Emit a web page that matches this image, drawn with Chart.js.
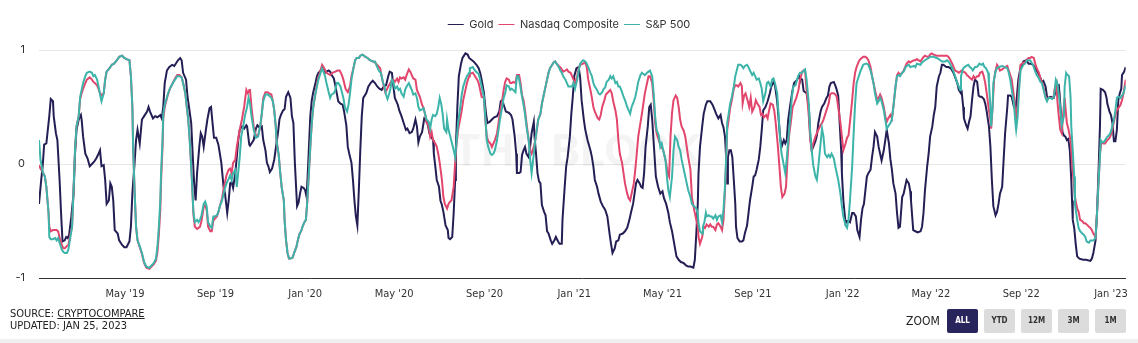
<!DOCTYPE html>
<html>
<head>
<meta charset="utf-8">
<script src="https://cdn.jsdelivr.net/npm/chart.js@4.4.1/dist/chart.umd.min.js"></script>
<style>
  html, body { margin: 0; padding: 0; background: #fff; }
  #wrap { position: relative; width: 1138px; height: 343px; overflow: hidden; }
  #box { position: absolute; left: 0; top: 0; width: 1138px; height: 343px; }
  .narrow { font-family: "Liberation Sans Narrow", "DejaVu Sans Condensed", "Roboto", sans-serif; color: #222; }
  #source { position: absolute; left: 10px; top: 308px; font-size: 11px; line-height: 12px; }
  #source u { text-decoration: underline; }
  #zoomLbl { position: absolute; left: 906px; top: 314px; font-size: 12px; }
  .btn { position: absolute; top: 309px; width: 31px; height: 24px; border-radius: 2px; background: #dcdcdc;
         font-size: 8px; font-weight: bold; line-height: 24px; text-align: center; color: #333; }
  .btn.on { background: #28245c; color: #fff; }
  #strip { position: absolute; left: 0; top: 339px; width: 1138px; height: 4px; background: #efefef; }
</style>
</head>
<body>
<div id="wrap">
  <div id="box"><canvas id="c"></canvas></div>
  <div id="source" class="narrow">SOURCE: <u>CRYPTOCOMPARE</u><br>UPDATED: JAN 25, 2023</div>
  <div id="zoomLbl" class="narrow">ZOOM</div>
  <div class="btn on narrow" style="left:947px">ALL</div>
  <div class="btn narrow" style="left:984px">YTD</div>
  <div class="btn narrow" style="left:1021px">12M</div>
  <div class="btn narrow" style="left:1058px">3M</div>
  <div class="btn narrow" style="left:1095px">1M</div>
  <div id="strip"></div>
</div>
<script>
// 30-day rolling correlation with Bitcoin; each point is [days since 2019-01-04, correlation]
const START = Date.UTC(2019, 0, 4);
const LAST_DAY = 1478;

const tickDates = ['2019-05-01','2019-09-01','2020-01-01','2020-05-01','2020-09-01','2021-01-01',
                   '2021-05-01','2021-09-01','2022-01-01','2022-05-01','2022-09-01','2023-01-01'];
const tickLabels = ["May '19","Sep '19","Jan '20","May '20","Sep '20","Jan '21",
                    "May '21","Sep '21","Jan '22","May '22","Sep '22","Jan '23"];

const gold = [
[0,-0.35],[3,-0.14],[5,-0.02],[7,0.17],[10,0.18],[11,0.24],[14,0.42],[16,0.57],[19,0.55],[20,0.42],[23,0.27],[25,0.21],[28,-0.14],[30,-0.43],[32,-0.68],[35,-0.67],[37,-0.64],[39,-0.65],[41,-0.62],[44,-0.46],[47,-0.26],[49,0.09],[51,0.30],[54,0.39],[57,0.43],[58,0.39],[60,0.24],[63,0.09],[66,0.05],[69,-0.02],[72,0.00],[75,0.02],[78,0.05],[81,0.09],[83,0.12],[85,-0.02],[88,-0.01],[90,-0.14],[92,-0.35],[95,-0.32],[97,-0.17],[99,-0.20],[101,-0.32],[103,-0.58],[107,-0.61],[109,-0.67],[113,-0.71],[116,-0.73],[119,-0.73],[123,-0.68],[125,-0.55],[127,-0.26],[130,0.01],[132,0.21],[134,0.30],
[137,0.18],[140,0.39],[143,0.42],[147,0.46],[149,0.50],[151,0.46],[155,0.40],[158,0.42],[161,0.41],[165,0.43],[167,0.40],[169,0.50],[171,0.71],[174,0.82],[177,0.85],[181,0.87],[184,0.86],[186,0.88],[189,0.91],[192,0.93],[194,0.91],[196,0.80],[200,0.74],[202,0.59],[204,0.50],[207,0.36],[209,0.09],[211,-0.17],[213,-0.32],[215,-0.08],[218,0.15],[220,0.27],[222,0.24],[224,0.15],[227,0.30],[229,0.39],[232,0.49],[234,0.50],[236,0.36],[238,0.23],[241,0.23],[244,0.17],[246,0.09],[248,0.01],[251,-0.20],[253,-0.26],[256,-0.43],[258,-0.32],[260,-0.17],[262,-0.16],[264,-0.21],[267,-0.08],[269,0.06],[271,0.21],[273,0.30],[276,0.33],[279,0.31],[282,0.34],[283,0.33],[286,0.17],
[287,0.16],[292,0.21],[295,0.31],[297,0.34],[300,0.32],[303,0.33],[305,0.21],[308,0.12],[310,0.01],[312,-0.02],[314,-0.07],[317,-0.04],[320,0.04],[323,0.18],[325,0.27],[327,0.39],[329,0.43],[332,0.47],[334,0.48],[336,0.59],[339,0.63],[342,0.58],[344,0.42],[346,0.36],[348,0.01],[351,-0.37],[353,-0.34],[355,-0.26],[357,-0.20],[360,-0.21],[362,-0.23],[364,-0.29],[366,-0.02],[369,0.42],[371,0.56],[373,0.63],[376,0.71],[378,0.77],[380,0.80],[382,0.81],[385,0.84],[387,0.82],[389,0.80],[391,0.81],[394,0.82],[396,0.81],[398,0.78],[401,0.75],[403,0.69],[405,0.62],[407,0.55],[410,0.53],[413,0.52],[415,0.46],[418,0.34],[420,0.15],[422,0.09],[425,0.01],[427,-0.14],[429,-0.32],[431,-0.46],[433,-0.54],[435,-0.23],
[437,0.12],[439,0.42],[441,0.58],[445,0.62],[448,0.68],[451,0.71],[454,0.73],[457,0.71],[460,0.68],[463,0.66],[466,0.65],[469,0.68],[472,0.69],[475,0.77],[477,0.81],[480,0.80],[482,0.68],[484,0.58],[488,0.52],[490,0.47],[493,0.42],[497,0.34],[499,0.30],[501,0.31],[504,0.27],[507,0.28],[509,0.31],[512,0.39],[514,0.33],[516,0.19],[518,0.24],[521,0.28],[524,0.40],[526,0.39],[529,0.34],[531,0.27],[533,0.24],[536,0.21],[537,0.09],[539,-0.02],[541,-0.14],[544,-0.20],[546,-0.32],[548,-0.36],[550,-0.42],[553,-0.54],[556,-0.58],[557,-0.65],[559,-0.66],[562,-0.64],[564,-0.43],[566,-0.14],[567,0.15],[569,0.50],[571,0.77],[574,0.88],[576,0.93],[580,0.97],[583,0.96],[585,0.93],
[586,0.93],[591,0.90],[595,0.87],[598,0.84],[600,0.80],[602,0.74],[605,0.63],[608,0.44],[610,0.36],[613,0.37],[616,0.39],[619,0.41],[623,0.42],[626,0.46],[628,0.55],[630,0.56],[633,0.50],[635,0.46],[639,0.45],[642,0.43],[644,0.39],[647,0.24],[649,0.09],[650,-0.08],[653,-0.08],[655,-0.07],[657,0.08],[659,0.12],[661,0.15],[663,0.09],[666,0.06],[668,0.15],[670,0.27],[673,0.37],[674,0.24],[676,0.09],[678,-0.08],[680,-0.15],[682,-0.17],[684,-0.36],[687,-0.42],[689,-0.45],[691,-0.59],[693,-0.61],[696,-0.67],[698,-0.70],[701,-0.67],[703,-0.64],[706,-0.68],[708,-0.70],[711,-0.70],[712,-0.49],[715,-0.20],[717,-0.02],[719,0.06],[722,0.24],[724,0.44],[726,0.59],[728,0.77],[731,0.84],[734,0.85],
[736,0.76],[738,0.56],[741,0.39],[743,0.30],[746,0.21],[750,0.12],[752,0.06],[754,-0.02],[756,-0.14],[759,-0.20],[761,-0.26],[764,-0.33],[767,-0.37],[770,-0.40],[773,-0.46],[776,-0.61],[778,-0.70],[780,-0.78],[783,-0.74],[785,-0.68],[788,-0.67],[790,-0.62],[794,-0.61],[797,-0.59],[800,-0.56],[803,-0.49],[805,-0.43],[808,-0.35],[810,-0.26],[812,-0.17],[814,-0.14],[817,-0.17],[819,-0.20],[821,-0.21],[823,-0.08],[825,0.15],[828,0.33],[830,0.50],[832,0.52],[834,0.39],[837,0.09],[839,-0.11],[842,-0.20],[845,-0.26],[848,-0.24],[850,-0.30],[853,-0.35],[856,-0.43],[858,-0.51],[861,-0.59],[864,-0.70],[867,-0.81],[870,-0.84],[873,-0.86],[877,-0.87],[880,-0.89],[883,-0.90],
[886,-0.90],[890,-0.91],[892,-0.84],[894,-0.61],[896,-0.35],[897,-0.08],[899,0.15],[902,0.33],[904,0.44],[907,0.52],[909,0.55],[913,0.55],[916,0.52],[918,0.49],[921,0.44],[924,0.40],[927,0.43],[929,0.36],[931,0.32],[933,0.24],[935,0.01],[936,-0.17],[937,0.06],[939,0.12],[941,0.12],[943,0.06],[945,-0.14],[947,-0.35],[948,-0.55],[950,-0.65],[953,-0.68],[956,-0.68],[958,-0.67],[960,-0.61],[963,-0.54],[965,-0.43],[967,-0.32],[970,-0.20],[972,-0.11],[974,-0.10],[976,-0.05],[979,0.04],[981,0.15],[983,0.30],[985,0.47],[988,0.50],[991,0.55],[994,0.62],[996,0.68],[999,0.72],[1001,0.69],[1004,0.55],[1006,0.39],[1008,0.24],[1010,0.15],[1013,0.21],[1015,0.18],[1017,0.21],[1019,0.39],[1022,0.53],[1025,0.65],[1027,0.71],[1030,0.73],[1032,0.75],[1034,0.77],
[1035,0.75],[1038,0.74],[1040,0.64],[1044,0.62],[1047,0.50],[1049,0.24],[1051,0.12],[1053,0.15],[1056,0.20],[1058,0.25],[1060,0.36],[1063,0.46],[1065,0.50],[1068,0.53],[1071,0.58],[1073,0.60],[1075,0.68],[1077,0.71],[1081,0.72],[1083,0.69],[1085,0.65],[1087,0.60],[1089,0.36],[1091,0.12],[1092,-0.08],[1094,-0.32],[1097,-0.52],[1099,-0.50],[1101,-0.50],[1103,-0.51],[1106,-0.43],[1108,-0.43],[1111,-0.46],[1113,-0.58],[1116,-0.64],[1118,-0.49],[1120,-0.39],[1122,-0.35],[1124,-0.23],[1126,-0.11],[1128,-0.08],[1131,-0.05],[1133,0.06],[1135,0.15],[1137,0.28],[1140,0.24],[1142,0.15],[1144,0.09],[1146,0.03],[1149,0.12],[1151,0.21],[1153,0.30],[1156,0.18],[1158,0.04],[1160,-0.05],[1162,-0.17],[1165,-0.26],[1167,-0.43],[1169,-0.56],[1171,-0.55],[1174,-0.29],[1176,-0.26],[1178,-0.20],[1180,-0.14],[1183,-0.17],
[1185,-0.24],[1186,-0.32],[1189,-0.58],[1192,-0.59],[1195,-0.60],[1199,-0.59],[1201,-0.55],[1203,-0.43],[1205,-0.23],[1208,-0.02],[1210,0.09],[1212,0.24],[1215,0.33],[1217,0.43],[1219,0.50],[1221,0.68],[1224,0.77],[1226,0.80],[1228,0.87],[1230,0.87],[1234,0.85],[1237,0.85],[1240,0.84],[1243,0.81],[1245,0.78],[1249,0.71],[1251,0.65],[1254,0.62],[1255,0.63],[1257,0.50],[1258,0.40],[1261,0.34],[1263,0.31],[1265,0.37],[1267,0.42],[1269,0.56],[1271,0.68],[1273,0.74],[1276,0.72],[1278,0.60],[1280,0.59],[1282,0.59],[1285,0.57],[1287,0.53],[1289,0.46],[1292,0.33],[1294,0.15],[1296,-0.14],[1298,-0.37],[1301,-0.45],[1303,-0.42],[1305,-0.35],[1307,-0.26],[1310,-0.20],[1312,0.04],[1314,0.27],[1317,0.50],[1318,0.60],[1321,0.60],[1323,0.59],[1326,0.50],[1328,0.47],[1330,0.59],[1332,0.74],
[1335,0.85],[1337,0.87],[1339,0.90],[1343,0.91],[1346,0.88],[1349,0.88],[1352,0.87],[1355,0.84],[1358,0.81],[1361,0.77],[1364,0.72],[1366,0.73],[1369,0.68],[1371,0.59],[1373,0.58],[1376,0.59],[1380,0.58],[1382,0.62],[1385,0.68],[1387,0.69],[1388,0.62],[1390,0.44],[1392,0.28],[1394,0.25],[1396,0.24],[1398,0.21],[1400,0.22],[1402,0.12],[1404,-0.14],[1405,-0.32],[1406,-0.49],[1408,-0.56],[1410,-0.70],[1412,-0.81],[1415,-0.83],[1420,-0.84],[1424,-0.84],[1430,-0.85],[1432,-0.83],[1434,-0.78],[1437,-0.67],[1439,-0.43],[1441,-0.08],[1443,0.33],[1444,0.66],[1447,0.65],[1450,0.63],[1452,0.58],[1453,0.53],[1456,0.46],[1458,0.43],[1460,0.36],[1462,0.20],[1464,0.20],[1466,0.30],[1468,0.56],[1470,0.62],[1472,0.66],[1473,0.78],[1476,0.81],[1478,0.85]
];

const nasdaq = [
[0,-0.01],[2,-0.04],[5,-0.07],[8,-0.11],[10,-0.20],[13,-0.43],[14,-0.55],[16,-0.59],[19,-0.58],[22,-0.58],[24,-0.58],[26,-0.59],[29,-0.67],[31,-0.71],[33,-0.74],[35,-0.74],[38,-0.72],[40,-0.71],[42,-0.64],[45,-0.55],[47,-0.23],[49,0.12],[51,0.33],[54,0.42],[56,0.57],[58,0.62],[60,0.66],[63,0.71],[65,0.74],[69,0.76],[72,0.74],[74,0.72],[76,0.71],[79,0.69],[81,0.66],[83,0.62],[86,0.60],[88,0.62],[90,0.74],[92,0.81],[96,0.84],[99,0.87],[102,0.88],[106,0.91],[109,0.94],[113,0.95],[116,0.93],[119,0.92],[123,0.91],[125,0.77],[127,0.50],[128,0.15],[130,-0.23],[132,-0.55],[134,-0.67],
[137,-0.73],[140,-0.79],[143,-0.87],[146,-0.91],[150,-0.92],[153,-0.90],[156,-0.88],[159,-0.85],[161,-0.78],[163,-0.62],[165,-0.40],[166,-0.15],[168,0.15],[169,0.40],[171,0.50],[173,0.55],[175,0.60],[178,0.66],[182,0.71],[185,0.75],[188,0.78],[191,0.78],[194,0.76],[196,0.71],[199,0.62],[201,0.50],[203,0.39],[205,0.21],[208,-0.14],[210,-0.44],[212,-0.55],[215,-0.57],[217,-0.56],[219,-0.55],[221,-0.50],[224,-0.38],[226,-0.36],[228,-0.40],[230,-0.55],[233,-0.59],[235,-0.59],[237,-0.50],[239,-0.48],[242,-0.46],[244,-0.42],[246,-0.37],[249,-0.30],[251,-0.22],[253,-0.16],[255,-0.10],[258,-0.05],[260,-0.04],[262,-0.08],[264,0.01],[267,0.04],[269,0.15],[273,0.30],[276,0.39],[279,0.50],[282,0.65],[284,0.62],[286,0.65],
[287,0.65],[289,0.50],[292,0.33],[294,0.27],[296,0.24],[298,0.25],[301,0.33],[303,0.44],[305,0.58],[308,0.63],[311,0.63],[313,0.62],[316,0.61],[318,0.55],[320,0.47],[322,0.33],[323,0.21],[326,0.08],[328,-0.07],[330,-0.20],[333,-0.32],[334,-0.49],[336,-0.67],[338,-0.78],[340,-0.83],[342,-0.83],[345,-0.82],[347,-0.78],[350,-0.73],[352,-0.67],[354,-0.62],[357,-0.58],[359,-0.54],[361,-0.51],[363,-0.49],[365,-0.32],[367,-0.08],[369,0.15],[371,0.36],[373,0.50],[376,0.62],[378,0.70],[380,0.76],[382,0.80],[385,0.87],[387,0.85],[391,0.80],[396,0.78],[399,0.80],[403,0.81],[406,0.82],[409,0.82],[412,0.78],[414,0.74],[417,0.66],[420,0.63],[423,0.68],[425,0.77],[428,0.85],[430,0.91],[432,0.93],[435,0.93],
[437,0.95],[440,0.96],[444,0.94],[447,0.93],[450,0.91],[454,0.90],[457,0.89],[460,0.87],[464,0.84],[466,0.77],[469,0.68],[471,0.63],[473,0.65],[475,0.68],[478,0.71],[480,0.74],[482,0.74],[484,0.72],[487,0.75],[489,0.72],[491,0.76],[493,0.75],[496,0.76],[498,0.74],[500,0.78],[503,0.83],[505,0.81],[507,0.78],[509,0.75],[512,0.74],[514,0.65],[516,0.62],[518,0.59],[521,0.52],[523,0.49],[525,0.44],[527,0.37],[530,0.33],[532,0.24],[534,0.28],[536,0.21],[539,0.18],[541,0.15],[543,0.09],[545,0.01],[548,-0.14],[550,-0.29],[552,-0.35],[555,-0.39],[557,-0.35],[559,-0.33],[561,-0.32],[564,-0.20],[566,0.01],[568,0.18],[570,0.30],[573,0.40],[575,0.47],[577,0.56],[580,0.65],[582,0.71],[585,0.77],
[586,0.79],[590,0.80],[593,0.77],[596,0.74],[598,0.71],[600,0.65],[602,0.59],[605,0.58],[607,0.39],[609,0.24],[611,0.20],[614,0.18],[616,0.15],[618,0.18],[620,0.21],[623,0.27],[625,0.36],[627,0.46],[630,0.56],[632,0.65],[634,0.72],[636,0.75],[639,0.74],[641,0.71],[643,0.71],[645,0.72],[648,0.71],[650,0.78],[653,0.78],[655,0.71],[657,0.60],[659,0.56],[661,0.47],[663,0.36],[666,0.21],[668,0.12],[670,0.09],[673,0.15],[675,0.21],[677,0.30],[679,0.39],[682,0.44],[684,0.53],[686,0.59],[688,0.65],[691,0.74],[693,0.80],[695,0.84],[698,0.87],[700,0.89],[702,0.90],[704,0.88],[707,0.86],[709,0.85],[711,0.83],[713,0.81],[716,0.82],[718,0.83],[720,0.81],[723,0.80],[725,0.77],[727,0.74],[729,0.71],[732,0.77],[734,0.84],
[736,0.87],[740,0.88],[743,0.89],[745,0.85],[747,0.74],[750,0.65],[752,0.58],[754,0.50],[756,0.46],[760,0.40],[762,0.39],[764,0.43],[766,0.50],[769,0.56],[771,0.61],[774,0.63],[777,0.65],[779,0.62],[781,0.55],[784,0.47],[786,0.39],[788,0.21],[790,0.09],[793,0.01],[795,-0.08],[797,-0.17],[800,-0.26],[802,-0.30],[804,-0.32],[806,-0.26],[809,-0.17],[811,-0.05],[813,0.09],[815,0.24],[818,0.36],[820,0.44],[822,0.53],[824,0.62],[827,0.71],[829,0.77],[831,0.77],[834,0.71],[836,0.56],[838,0.36],[840,0.27],[845,0.17],[849,0.12],[853,0.01],[855,-0.08],[857,-0.11],[859,0.25],[861,0.45],[863,0.56],[866,0.60],[868,0.58],[870,0.50],[872,0.39],[874,0.33],[877,0.29],[879,0.24],[881,0.15],[883,0.06],
[886,-0.05],[888,-0.29],[891,-0.40],[894,-0.49],[896,-0.55],[897,-0.64],[899,-0.70],[902,-0.64],[904,-0.55],[906,-0.56],[908,-0.53],[911,-0.55],[913,-0.53],[915,-0.55],[917,-0.55],[920,-0.58],[922,-0.53],[924,-0.52],[927,-0.55],[929,-0.58],[931,-0.49],[933,-0.23],[935,0.09],[936,0.30],[938,0.39],[940,0.49],[942,0.55],[945,0.66],[947,0.69],[949,0.69],[951,0.68],[954,0.71],[956,0.68],[957,0.53],[959,0.60],[961,0.62],[964,0.55],[966,0.50],[968,0.58],[970,0.46],[973,0.50],[975,0.56],[977,0.53],[980,0.50],[982,0.43],[984,0.44],[986,0.41],[989,0.43],[991,0.40],[993,0.47],[995,0.53],[998,0.52],[1000,0.47],[1002,0.36],[1005,0.15],[1007,-0.02],[1009,-0.20],[1011,-0.29],[1014,-0.26],[1016,-0.20],[1018,0.04],[1020,0.24],[1023,0.39],[1025,0.50],[1027,0.53],[1030,0.58],[1033,0.65],
[1035,0.74],[1038,0.81],[1040,0.82],[1042,0.81],[1044,0.65],[1047,0.42],[1049,0.21],[1051,0.12],[1053,0.18],[1056,0.24],[1058,0.27],[1060,0.30],[1063,0.34],[1065,0.36],[1067,0.39],[1069,0.43],[1072,0.49],[1074,0.53],[1076,0.61],[1078,0.62],[1081,0.62],[1083,0.61],[1085,0.59],[1087,0.50],[1090,0.36],[1092,0.24],[1094,0.12],[1097,0.18],[1099,0.23],[1101,0.25],[1103,0.37],[1106,0.56],[1108,0.71],[1110,0.80],[1112,0.85],[1115,0.90],[1117,0.92],[1119,0.93],[1121,0.94],[1124,0.94],[1126,0.93],[1128,0.91],[1131,0.85],[1133,0.77],[1135,0.71],[1137,0.65],[1140,0.56],[1142,0.58],[1144,0.61],[1146,0.58],[1149,0.50],[1151,0.42],[1153,0.37],[1155,0.40],[1158,0.43],[1160,0.40],[1162,0.50],[1165,0.68],[1167,0.78],[1169,0.80],[1171,0.78],[1174,0.80],[1176,0.82],[1178,0.85],[1180,0.88],[1183,0.90],
[1185,0.89],[1187,0.90],[1190,0.91],[1192,0.91],[1194,0.92],[1196,0.91],[1199,0.90],[1201,0.92],[1203,0.94],[1205,0.95],[1208,0.94],[1210,0.94],[1212,0.96],[1214,0.97],[1217,0.96],[1221,0.95],[1226,0.95],[1230,0.95],[1235,0.95],[1237,0.94],[1239,0.92],[1242,0.88],[1244,0.85],[1246,0.82],[1249,0.81],[1251,0.80],[1253,0.81],[1255,0.82],[1257,0.81],[1260,0.80],[1262,0.78],[1264,0.77],[1267,0.75],[1269,0.74],[1271,0.77],[1273,0.75],[1276,0.77],[1278,0.77],[1280,0.80],[1283,0.81],[1285,0.77],[1287,0.71],[1289,0.62],[1292,0.47],[1294,0.39],[1295,0.31],[1297,0.50],[1299,0.74],[1301,0.82],[1303,0.87],[1305,0.85],[1307,0.82],[1310,0.83],[1312,0.84],[1314,0.85],[1317,0.86],[1319,0.82],[1321,0.78],[1323,0.74],[1326,0.59],[1328,0.44],[1329,0.39],[1331,0.50],[1333,0.71],
[1335,0.87],[1337,0.88],[1339,0.89],[1341,0.89],[1344,0.92],[1346,0.93],[1348,0.93],[1350,0.94],[1353,0.93],[1355,0.88],[1357,0.84],[1360,0.80],[1362,0.75],[1364,0.72],[1366,0.68],[1369,0.59],[1371,0.56],[1373,0.58],[1375,0.58],[1378,0.58],[1380,0.59],[1382,0.68],[1384,0.71],[1385,0.56],[1387,0.42],[1389,0.30],[1391,0.27],[1393,0.44],[1395,0.58],[1396,0.50],[1398,0.36],[1400,0.31],[1403,0.21],[1405,0.01],[1407,-0.14],[1409,-0.29],[1412,-0.39],[1414,-0.42],[1416,-0.49],[1419,-0.50],[1421,-0.52],[1423,-0.52],[1425,-0.53],[1428,-0.55],[1430,-0.56],[1432,-0.58],[1434,-0.61],[1437,-0.64],[1439,-0.43],[1441,-0.17],[1443,0.09],[1445,0.19],[1448,0.18],[1450,0.18],[1453,0.21],[1455,0.22],[1457,0.24],[1459,0.28],[1462,0.37],[1464,0.43],[1466,0.47],[1468,0.49],[1471,0.52],[1473,0.56],[1475,0.62],[1478,0.74]
];

const sp500 = [
[0,0.21],[2,0.04],[5,-0.07],[8,-0.11],[10,-0.20],[13,-0.43],[14,-0.64],[16,-0.66],[19,-0.66],[22,-0.65],[24,-0.67],[26,-0.65],[29,-0.71],[31,-0.75],[33,-0.77],[35,-0.78],[38,-0.78],[40,-0.75],[42,-0.67],[45,-0.55],[47,-0.23],[49,0.12],[51,0.33],[54,0.42],[56,0.59],[58,0.65],[60,0.71],[63,0.77],[65,0.80],[69,0.81],[72,0.80],[74,0.77],[76,0.78],[79,0.74],[81,0.68],[83,0.61],[85,0.55],[88,0.62],[90,0.74],[92,0.81],[96,0.84],[99,0.87],[102,0.88],[106,0.91],[109,0.94],[113,0.95],[116,0.93],[119,0.92],[123,0.91],[125,0.77],[127,0.50],[128,0.15],[130,-0.23],[132,-0.55],[134,-0.67],
[137,-0.72],[140,-0.78],[143,-0.86],[146,-0.90],[150,-0.91],[153,-0.89],[156,-0.87],[159,-0.83],[161,-0.73],[163,-0.55],[165,-0.32],[166,-0.08],[168,0.21],[169,0.44],[171,0.52],[173,0.56],[175,0.61],[178,0.66],[182,0.71],[185,0.74],[188,0.77],[191,0.77],[194,0.76],[196,0.71],[199,0.62],[201,0.50],[203,0.39],[205,0.21],[208,-0.14],[210,-0.42],[212,-0.51],[215,-0.49],[217,-0.51],[219,-0.49],[221,-0.45],[224,-0.35],[226,-0.33],[228,-0.37],[230,-0.51],[233,-0.55],[235,-0.56],[237,-0.46],[239,-0.46],[242,-0.45],[244,-0.42],[246,-0.37],[249,-0.32],[251,-0.26],[253,-0.21],[255,-0.17],[258,-0.13],[260,-0.10],[262,-0.14],[264,-0.08],[267,-0.05],[269,-0.20],[273,0.06],[275,0.24],[278,0.34],[280,0.42],[283,0.50],[285,0.58],
[287,0.53],[289,0.42],[292,0.30],[295,0.23],[298,0.24],[301,0.34],[303,0.44],[305,0.55],[308,0.61],[311,0.61],[313,0.60],[316,0.58],[318,0.55],[320,0.47],[322,0.33],[323,0.21],[326,0.08],[328,-0.07],[330,-0.20],[333,-0.32],[334,-0.49],[336,-0.67],[338,-0.78],[340,-0.83],[342,-0.83],[345,-0.82],[347,-0.78],[350,-0.73],[352,-0.67],[354,-0.62],[357,-0.58],[359,-0.54],[361,-0.51],[363,-0.49],[365,-0.32],[367,-0.08],[369,0.15],[371,0.36],[373,0.50],[376,0.62],[378,0.68],[380,0.74],[382,0.78],[385,0.84],[387,0.81],[389,0.77],[391,0.71],[394,0.63],[396,0.58],[398,0.61],[401,0.62],[403,0.65],[405,0.71],[407,0.71],[410,0.68],[412,0.63],[414,0.58],[416,0.50],[419,0.46],[421,0.52],[423,0.62],[425,0.74],[428,0.85],[430,0.91],[432,0.93],[435,0.93],
[437,0.95],[440,0.96],[444,0.94],[447,0.93],[450,0.91],[454,0.90],[457,0.90],[460,0.85],[463,0.81],[465,0.80],[468,0.71],[470,0.68],[472,0.61],[474,0.57],[476,0.61],[478,0.66],[480,0.74],[482,0.72],[484,0.66],[487,0.68],[489,0.65],[491,0.66],[493,0.62],[496,0.59],[498,0.65],[500,0.68],[503,0.71],[505,0.68],[507,0.65],[509,0.61],[512,0.62],[514,0.58],[516,0.50],[518,0.47],[521,0.48],[523,0.49],[525,0.44],[527,0.39],[530,0.37],[532,0.31],[534,0.39],[536,0.43],[539,0.42],[541,0.44],[543,0.50],[545,0.58],[547,0.53],[549,0.44],[551,0.31],[554,0.28],[555,0.39],[557,0.30],[559,0.25],[561,0.20],[564,0.12],[566,0.06],[568,0.20],[570,0.36],[573,0.50],[575,0.61],[577,0.68],[580,0.74],[582,0.77],[585,0.80],
[586,0.84],[590,0.85],[593,0.82],[596,0.80],[598,0.79],[600,0.74],[602,0.68],[605,0.59],[607,0.42],[609,0.21],[611,0.15],[614,0.09],[616,0.08],[618,0.09],[620,0.12],[623,0.21],[625,0.30],[627,0.39],[630,0.50],[632,0.58],[634,0.62],[636,0.69],[639,0.68],[641,0.65],[643,0.66],[645,0.65],[648,0.63],[650,0.77],[652,0.77],[654,0.71],[657,0.59],[659,0.52],[661,0.44],[663,0.33],[666,0.21],[668,0.04],[670,-0.08],[673,0.09],[675,0.21],[677,0.30],[679,0.39],[682,0.44],[684,0.53],[686,0.59],[688,0.65],[691,0.74],[693,0.80],[695,0.84],[698,0.87],[700,0.89],[702,0.90],[704,0.88],[707,0.85],[709,0.82],[711,0.80],[713,0.77],[716,0.74],[718,0.71],[720,0.68],[723,0.68],[725,0.68],[727,0.71],[729,0.66],[732,0.74],[734,0.82],
[736,0.88],[740,0.91],[743,0.90],[745,0.88],[747,0.85],[750,0.80],[752,0.77],[754,0.71],[756,0.68],[759,0.65],[761,0.62],[763,0.61],[766,0.63],[768,0.66],[770,0.67],[772,0.72],[775,0.74],[777,0.77],[779,0.75],[781,0.77],[784,0.71],[786,0.72],[788,0.68],[790,0.68],[793,0.63],[795,0.59],[797,0.56],[800,0.50],[802,0.47],[804,0.44],[806,0.50],[809,0.55],[811,0.59],[813,0.65],[815,0.72],[818,0.78],[820,0.80],[822,0.79],[824,0.78],[827,0.80],[829,0.81],[831,0.82],[834,0.77],[836,0.62],[838,0.42],[840,0.30],[843,0.25],[845,0.15],[847,0.18],[849,0.12],[852,0.04],[854,-0.11],[856,-0.23],[858,-0.29],[861,-0.11],[863,0.12],[865,0.24],[868,0.21],[870,0.15],[872,0.12],[874,0.04],[877,-0.05],[879,-0.11],[881,-0.17],[883,-0.23],
[886,-0.29],[888,-0.35],[891,-0.37],[894,-0.39],[896,-0.43],[897,-0.52],[899,-0.59],[902,-0.61],[903,-0.55],[905,-0.51],[907,-0.43],[908,-0.46],[911,-0.45],[913,-0.46],[915,-0.46],[917,-0.48],[920,-0.45],[922,-0.49],[924,-0.46],[927,-0.45],[929,-0.51],[931,-0.40],[933,-0.20],[935,0.12],[936,0.36],[938,0.44],[940,0.53],[942,0.58],[945,0.68],[947,0.77],[949,0.82],[951,0.87],[954,0.87],[956,0.86],[958,0.84],[960,0.86],[963,0.87],[965,0.85],[967,0.82],[970,0.78],[972,0.80],[974,0.77],[976,0.74],[979,0.75],[981,0.71],[983,0.66],[985,0.55],[988,0.62],[990,0.71],[992,0.72],[995,0.68],[997,0.74],[999,0.75],[1001,0.71],[1004,0.62],[1006,0.42],[1008,0.21],[1010,0.09],[1013,-0.01],[1015,-0.08],[1017,0.04],[1019,0.21],[1022,0.42],[1024,0.59],[1026,0.68],[1029,0.69],[1031,0.74],[1033,0.78],
[1035,0.80],[1038,0.80],[1040,0.82],[1042,0.83],[1044,0.74],[1047,0.53],[1049,0.27],[1051,0.12],[1053,-0.01],[1056,-0.11],[1058,-0.14],[1060,-0.02],[1063,0.18],[1065,0.31],[1067,0.24],[1069,0.09],[1072,0.06],[1074,0.08],[1076,0.06],[1078,0.09],[1081,0.05],[1083,-0.02],[1085,-0.08],[1087,-0.14],[1090,-0.26],[1092,-0.37],[1094,-0.46],[1097,-0.54],[1099,-0.56],[1101,-0.49],[1103,-0.32],[1106,-0.02],[1108,0.27],[1110,0.53],[1112,0.71],[1115,0.77],[1117,0.81],[1119,0.84],[1121,0.87],[1124,0.88],[1126,0.88],[1128,0.87],[1131,0.82],[1133,0.77],[1135,0.71],[1137,0.62],[1140,0.53],[1142,0.55],[1144,0.58],[1146,0.55],[1149,0.47],[1151,0.39],[1153,0.31],[1155,0.33],[1158,0.36],[1160,0.39],[1162,0.50],[1165,0.68],[1167,0.77],[1169,0.78],[1171,0.77],[1174,0.80],[1176,0.81],[1178,0.84],[1180,0.86],[1183,0.87],
[1185,0.85],[1190,0.86],[1192,0.85],[1194,0.88],[1199,0.87],[1201,0.89],[1205,0.91],[1210,0.93],[1212,0.94],[1217,0.94],[1221,0.93],[1226,0.91],[1228,0.90],[1233,0.90],[1235,0.91],[1237,0.90],[1239,0.88],[1242,0.84],[1244,0.81],[1246,0.77],[1249,0.71],[1251,0.68],[1253,0.65],[1254,0.77],[1257,0.84],[1259,0.85],[1261,0.86],[1264,0.87],[1266,0.85],[1268,0.84],[1270,0.82],[1273,0.85],[1275,0.85],[1277,0.86],[1279,0.88],[1282,0.87],[1284,0.88],[1286,0.85],[1288,0.84],[1291,0.80],[1292,0.71],[1294,0.50],[1295,0.33],[1297,0.50],[1298,0.71],[1301,0.81],[1303,0.84],[1305,0.85],[1310,0.86],[1314,0.85],[1317,0.84],[1319,0.80],[1321,0.74],[1323,0.65],[1326,0.53],[1328,0.36],[1329,0.30],[1331,0.41],[1333,0.65],
[1335,0.82],[1337,0.85],[1339,0.87],[1341,0.88],[1344,0.91],[1346,0.91],[1348,0.91],[1351,0.88],[1353,0.85],[1355,0.81],[1357,0.78],[1360,0.75],[1362,0.72],[1364,0.71],[1366,0.66],[1369,0.58],[1371,0.55],[1373,0.58],[1375,0.58],[1378,0.57],[1380,0.59],[1381,0.62],[1383,0.74],[1385,0.71],[1387,0.61],[1389,0.50],[1391,0.34],[1394,0.42],[1395,0.68],[1397,0.80],[1399,0.78],[1401,0.77],[1403,0.59],[1404,0.33],[1406,0.12],[1408,-0.11],[1409,-0.35],[1412,-0.49],[1414,-0.56],[1416,-0.59],[1419,-0.61],[1421,-0.62],[1423,-0.64],[1425,-0.68],[1428,-0.69],[1430,-0.67],[1432,-0.67],[1434,-0.67],[1437,-0.65],[1439,-0.43],[1441,-0.17],[1443,0.06],[1444,0.21],[1446,0.19],[1448,0.19],[1450,0.21],[1453,0.24],[1455,0.25],[1457,0.27],[1459,0.31],[1462,0.39],[1464,0.47],[1466,0.58],[1468,0.59],[1471,0.58],[1473,0.60],[1475,0.62],[1478,0.69]
];

const DAY_MS = 86400000;
const tickDays = tickDates.map(d => Math.round((Date.parse(d + 'T00:00:00Z') - START) / DAY_MS));
const toPoints = rows => rows.map(([x, y]) => ({ x, y }));

const NARROW = '"Liberation Sans Narrow", "DejaVu Sans Condensed", Roboto, sans-serif';

// extra room between the legend row and the plot
const legendGap = {
  id: 'legendGap',
  beforeInit(chart) {
    if (!chart.legend) return;
    const fit = chart.legend.fit;
    chart.legend.fit = function () { fit.call(this); this.height += 10; };
  }
};

// faint brand mark behind the lines
const brandMark = {
  id: 'brandMark',
  beforeDatasetsDraw(chart) {
    const { ctx, chartArea } = chart;
    ctx.save();
    ctx.font = 'bold 44px Inter, "Noto Sans", sans-serif';
    ctx.fillStyle = 'rgba(0,0,0,0.045)';
    ctx.textAlign = 'center';
    ctx.textBaseline = 'alphabetic';
    ctx.fillText('THE BLOCK', chartArea.left + chartArea.width * 0.495, chartArea.top + chartArea.height * 0.5 + 2);
    ctx.restore();
  }
};

new Chart(document.getElementById('c'), {
  type: 'line',
  data: {
    datasets: [
      { label: 'Gold', data: toPoints(gold), borderColor: '#231f55', backgroundColor: '#231f55', order: 3 },
      { label: 'Nasdaq Composite', data: toPoints(nasdaq), borderColor: '#e2466d', backgroundColor: '#e2466d', order: 2 },
      { label: 'S&P 500', data: toPoints(sp500), borderColor: '#3db4aa', backgroundColor: '#3db4aa', order: 1 }
    ]
  },
  options: {
    responsive: true,
    maintainAspectRatio: false,
    animation: false,
    layout: { padding: { left: 12, right: 12, top: 14, bottom: 35 } },
    elements: {
      point: { radius: 0, hoverRadius: 0 },
      line: { borderWidth: 2, tension: 0, fill: false }
    },
    plugins: {
      legend: {
        position: 'top',
        labels: {
          usePointStyle: true,
          pointStyle: 'line',
          pointStyleWidth: 16,
          boxHeight: 12,
          padding: 5,
          color: '#333',
          font: { family: 'Inter, "Noto Sans", sans-serif', size: 11 },
          sort: (a, b) => a.datasetIndex - b.datasetIndex
        }
      },
      tooltip: { enabled: false }
    },
    scales: {
      x: {
        type: 'linear',
        min: 0,
        max: LAST_DAY,
        grid: { display: false, drawTicks: false },
        border: { display: true, color: '#333', width: 1 },
        afterBuildTicks: s => { s.ticks = tickDays.map(v => ({ value: v })); },
        afterFit: s => { s.height = 30; },
        ticks: {
          autoSkip: false,
          maxRotation: 0,
          padding: 10,
          color: '#333',
          font: { family: NARROW, size: 11 },
          callback: (v, i) => tickLabels[i]
        }
      },
      y: {
        min: -1,
        max: 1,
        afterBuildTicks: s => { s.ticks = [-1, 0, 1].map(v => ({ value: v })); },
        afterFit: s => { s.width = 27; },
        grid: {
          drawTicks: false,
          color: c => (c.tick && c.tick.value === -1) ? 'rgba(0,0,0,0)' : '#e6e6e6'
        },
        border: { display: false },
        ticks: { padding: 14, color: '#333', font: { family: 'Inter, sans-serif', size: 11 } }
      }
    }
  },
  plugins: [legendGap, brandMark]
});
</script>
</body>
</html>
